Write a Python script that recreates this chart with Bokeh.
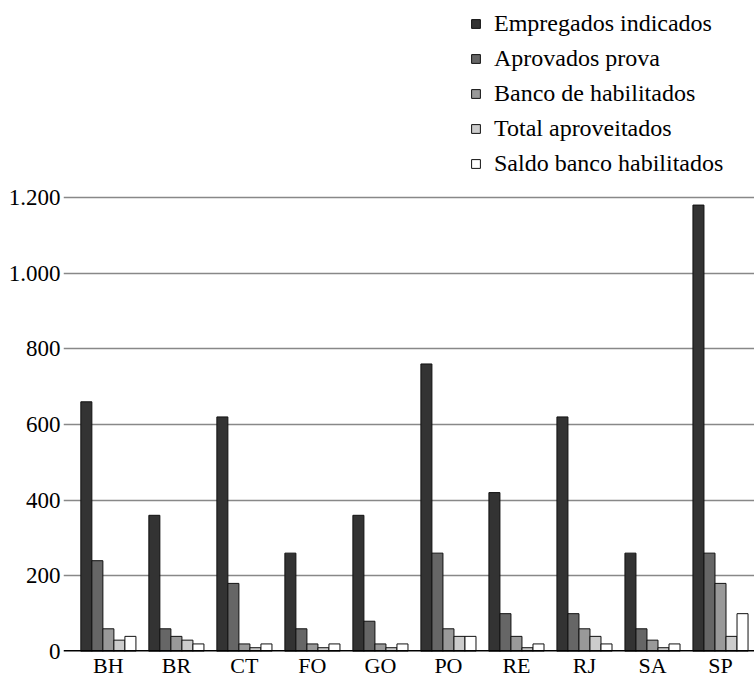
from bokeh.plotting import figure
from bokeh.models import (ColumnDataSource, Range1d, FixedTicker, Span,
                          Legend, LegendItem)
from bokeh.embed import file_html
from bokeh.resources import INLINE

# Regions and indicators per region
categories = ["BH", "BR", "CT", "FO", "GO", "PO", "RE", "RJ", "SA", "SP"]
empregados = [660, 360, 620, 260, 360, 760, 420, 620, 260, 1180]
aprovados = [240, 60, 180, 60, 80, 260, 100, 100, 60, 260]
banco = [60, 40, 20, 20, 20, 60, 40, 60, 30, 180]
total = [30, 30, 10, 10, 10, 40, 10, 40, 10, 40]
saldo = [40, 20, 20, 20, 20, 40, 20, 20, 20, 100]

series_names = ["Empregados indicados", "Aprovados prova", "Banco de habilitados",
                "Total aproveitados", "Saldo banco habilitados"]
series_values = [empregados, aprovados, banco, total, saldo]
series_colors = ["#333333", "#666666", "#999999", "#cccccc", "#ffffff"]

y_ticks = [0, 200, 400, 600, 800, 1000, 1200]
y_tick_labels = ["0", "200", "400", "600", "800", "1.000", "1.200"]

FONT = "'Liberation Serif', 'Times New Roman', serif"

p = figure(frame_width=691, frame_height=651,
           x_range=Range1d(-0.16, 10), y_range=Range1d(0, 1720.7),
           output_backend="svg", toolbar_location=None,
           min_border_left=63, min_border_right=0,
           min_border_top=0, min_border_bottom=25)
p.outline_line_color = None
p.background_fill_color = "white"
p.border_fill_color = "white"

bar_w = 0.162
offsets = [-2, -1, 0, 1, 2]
centers = [i + 0.5 for i in range(len(categories))]

items = []
for name, vals, color, off in zip(series_names, series_values, series_colors, offsets):
    src = ColumnDataSource(dict(x=[c + off * bar_w for c in centers], top=vals))
    r = p.vbar(x="x", top="top", bottom=0, width=bar_w, source=src,
               fill_color=color, line_color="#111111", line_width=1)
    items.append(LegendItem(label=name, renderers=[r]))

# baseline
p.add_layout(Span(location=0, dimension="width", line_color="black", line_width=3))

# y axis
p.yaxis.ticker = FixedTicker(ticks=y_ticks)
p.yaxis.major_label_overrides = {t: l for t, l in zip(y_ticks, y_tick_labels)}
p.yaxis.axis_line_color = None
p.yaxis.major_tick_line_color = None
p.yaxis.minor_tick_line_color = None
p.yaxis.major_tick_out = 0
p.yaxis.major_label_text_font = FONT
p.yaxis.major_label_text_font_size = "23px"
p.yaxis.major_label_text_color = "black"
p.yaxis.major_label_standoff = 3

# x axis with region labels
p.xaxis.ticker = FixedTicker(ticks=centers)
p.xaxis.major_label_overrides = {c: l for c, l in zip(centers, categories)}
p.xaxis.axis_line_color = None
p.xaxis.major_tick_line_color = None
p.xaxis.minor_tick_line_color = None
p.xaxis.major_tick_out = 0
p.xaxis.major_label_text_font = FONT
p.xaxis.major_label_text_font_size = "22px"
p.xaxis.major_label_text_color = "black"
p.xaxis.major_label_standoff = 1

p.xgrid.grid_line_color = None
p.ygrid.ticker = FixedTicker(ticks=y_ticks[1:])
p.ygrid.grid_line_color = "#888888"
p.ygrid.grid_line_width = 1.3

legend = Legend(items=items, location=(407, 474),
                label_text_font=FONT, label_text_font_size="24px",
                label_text_color="black",
                glyph_width=11, glyph_height=11, label_standoff=13,
                label_height=27, spacing=8, padding=0, margin=0,
                border_line_color=None, background_fill_alpha=0)
p.add_layout(legend)

open("out.html", "w").write(file_html(p, INLINE))
